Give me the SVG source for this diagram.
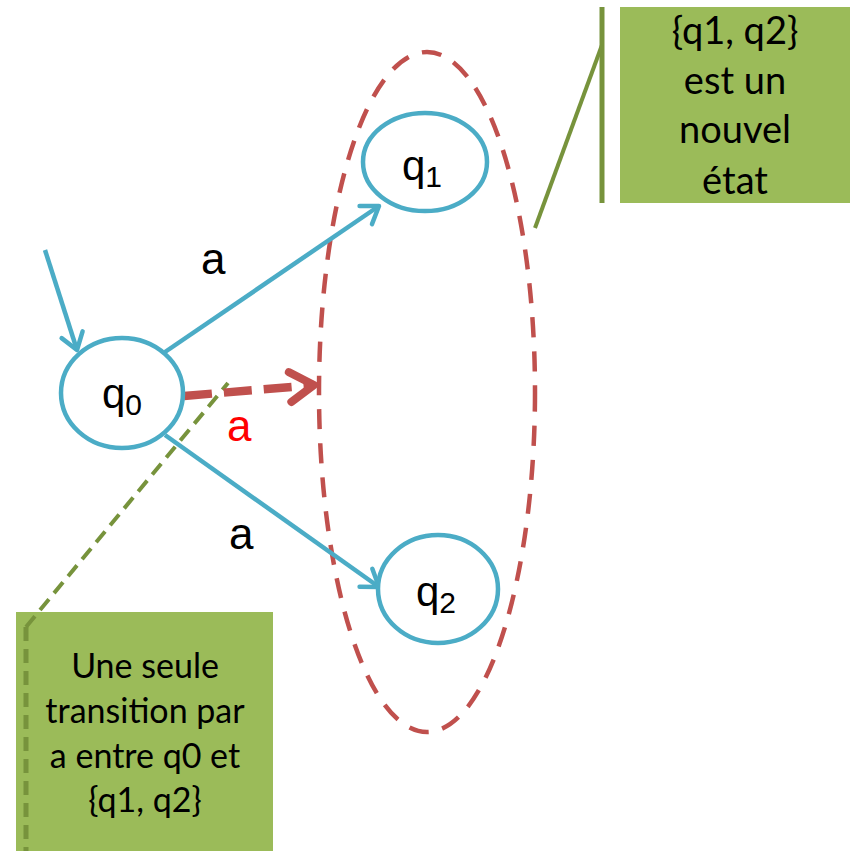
<svg xmlns="http://www.w3.org/2000/svg" width="850" height="851" viewBox="0 0 850 851">
<style>
.st{fill:#fff;stroke:#4BACC6;stroke-width:4.5}
.tr{fill:none;stroke:#4BACC6;stroke-width:4.5}
.lbl{font-family:"Liberation Sans",Arial,sans-serif;font-size:44px;fill:#000}
.ql{font-family:"Liberation Sans",Arial,sans-serif;font-size:42px;fill:#000}
.sub{font-size:30px}
.co{font-family:Lato,"Open Sans",sans-serif;fill:#000;text-anchor:middle}
</style>
<defs>
<marker id="ar" markerWidth="1" markerHeight="1" markerUnits="userSpaceOnUse" orient="auto" overflow="visible">
<path d="M-24,-15 L0,0 L-24,15" fill="none" stroke="#C0504D" stroke-width="8" stroke-linecap="round" stroke-linejoin="round"/>
</marker>
<marker id="abl" markerWidth="1" markerHeight="1" markerUnits="userSpaceOnUse" orient="auto" overflow="visible">
<path d="M-16,-11 L0,0 L-16,11" fill="none" stroke="#4BACC6" stroke-width="4.5" stroke-linecap="round" stroke-linejoin="round"/>
</marker>
</defs>
<g id="group-ellipse">
<ellipse cx="427" cy="392" rx="108" ry="340" fill="none" stroke="#C0504D" stroke-width="4.5" stroke-dasharray="20 14"/>
</g>
<g id="callout-top">
<rect x="620" y="7" width="230" height="196" fill="#9BBB59"/>
<line x1="602" y1="7" x2="602" y2="203" stroke="#77933C" stroke-width="5"/>
<line x1="602" y1="45" x2="535" y2="228" stroke="#77933C" stroke-width="4"/>
<text class="co" font-size="38"><tspan x="735" y="44">{q1, q2}</tspan><tspan x="735" y="94">est un</tspan><tspan x="735" y="143">nouvel</tspan><tspan x="735" y="194">état</tspan></text>
</g>
<g id="callout-bottom">
<rect x="16" y="612" width="257" height="239" fill="#9BBB59"/>
<line x1="26" y1="627" x2="228" y2="383" stroke="#77933C" stroke-width="4" stroke-dasharray="14 8"/>
<line x1="26" y1="627" x2="26" y2="851" stroke="#77933C" stroke-width="5" stroke-dasharray="14 8"/>
<text class="co" font-size="34"><tspan x="145" y="678">Une seule</tspan><tspan x="145" y="723">transition par</tspan><tspan x="145" y="768">a entre q0 et</tspan><tspan x="145" y="812">{q1, q2}</tspan></text>
</g>
<g id="connectors">
<line class="tr" x1="45" y1="250" x2="77" y2="350" marker-end="url(#abl)"/>
<line class="tr" x1="165" y1="352" x2="379" y2="206" marker-end="url(#abl)"/>
<line class="tr" x1="165" y1="435" x2="379" y2="587" marker-end="url(#abl)"/>
<line x1="184" y1="396" x2="314" y2="385" fill="none" stroke="#C0504D" stroke-width="8.5" stroke-dasharray="28 12" marker-end="url(#ar)"/>
<text class="lbl" x="201" y="274">a</text>
<text class="lbl" x="229" y="549">a</text>
<text class="lbl" x="227" y="441" style="fill:#FF0000">a</text>
</g>
<g id="q0">
<ellipse class="st" cx="122" cy="393" rx="61" ry="55"/>
<text class="ql" x="102" y="408">q<tspan class="sub" dy="7">0</tspan></text>
</g>
<g id="q1">
<ellipse class="st" cx="425" cy="162" rx="62" ry="49"/>
<text class="ql" x="402" y="180">q<tspan class="sub" dy="7">1</tspan></text>
</g>
<g id="q2">
<ellipse class="st" cx="438" cy="589" rx="60" ry="54"/>
<text class="ql" x="416" y="606">q<tspan class="sub" dy="7">2</tspan></text>
</g>
</svg>
